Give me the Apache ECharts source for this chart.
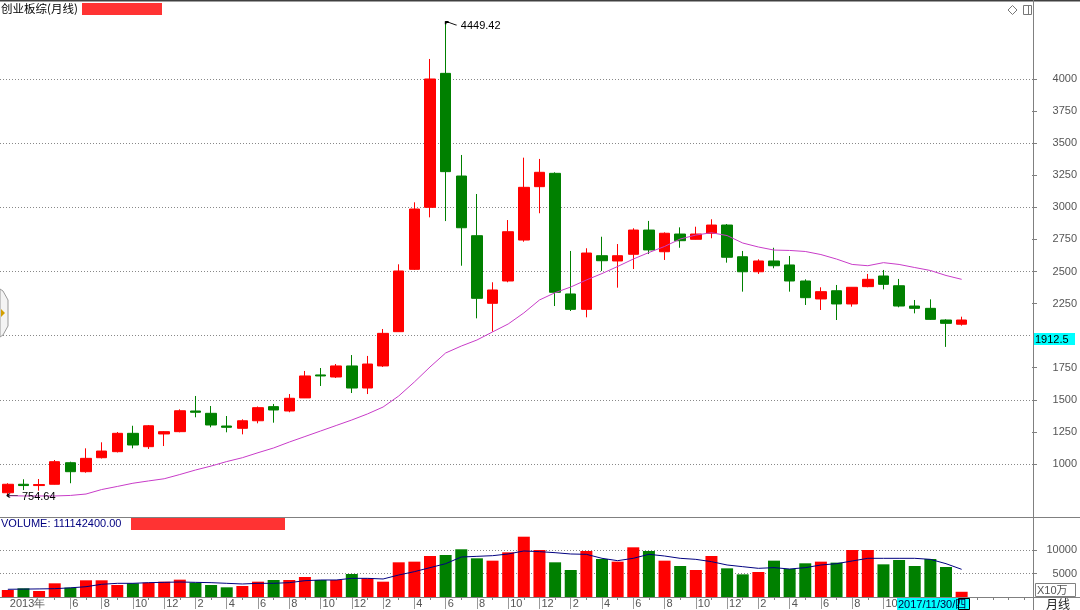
<!DOCTYPE html>
<html><head><meta charset="utf-8">
<script src="https://cdn.jsdelivr.net/npm/echarts@6/dist/echarts.min.js"></script>
<style>html,body{margin:0;padding:0;background:#fff}#c{width:1080px;height:610px}</style>
</head><body><div id="c"></div>
<script>
// x-axis tick labels (one per monthly bar, plus empty slots on the right)
const tickLabels = ['2013年','','','','6','','8','','10','','12','','2','','4','','6','','8','','10','','12','',
  '2','','4','','6','','8','','10','','12','','2','','4','','6','','8','','10','','12','',
  '2','','4','','6','','8','','10','','','','','','','','',''];
// candles: [open, close, lowest, highest]
const candles = [
 [776,842,754.64,850],[842,832,797,881],[832,840,792,883],[842,1018,840,1031],[1010,940,850,1018],
 [940,1044,932,1122],[1049,1101,1043,1169],[1096,1239,1090,1249],[1239,1148,1122,1298],[1135,1298,1117,1304],
 [1234,1252,1140,1257],[1252,1415,1247,1426],[1413,1403,1364,1530],[1395,1304,1286,1452],[1296,1286,1247,1374],
 [1278,1337,1231,1348],[1337,1439,1317,1448],[1447,1421,1322,1468],[1413,1512,1403,1545],[1515,1686,1514,1725],
 [1694,1686,1608,1748],[1678,1764,1670,1779],[1764,1592,1553,1849],[1592,1779,1545,1842],[1764,2018,1756,2052],
 [2031,2504,2029,2556],[2517,2987,2512,3039],[3000,4000,2922,4156],[4044,3278,2893,4449.42],[3244,2841,2545,3408],
 [2779,2291,2135,3104],[2252,2356,2031,2416],[2426,2810,2416,2901],[2745,3156,2732,3387],[3161,3273,2954,3377],
 [3265,2338,2231,3273],[2325,2205,2192,2660],[2205,2644,2143,2681],[2623,2584,2504,2771],[2582,2623,2374,2714],
 [2634,2823,2519,2837],[2823,2668,2636,2894],[2654,2798,2590,2805],[2792,2740,2685,2844],[2751,2792,2749,2849],
 [2798,2862,2759,2907],[2862,2611,2569,2870],[2615,2498,2343,2660],[2498,2582,2481,2595],[2582,2545,2525,2685],
 [2551,2426,2343,2621],[2426,2296,2239,2439],[2286,2343,2200,2377],[2350,2247,2122,2395],[2247,2377,2226,2379],
 [2382,2439,2377,2481],[2465,2400,2361,2512],[2389,2231,2221,2442],[2231,2213,2174,2278],[2213,2127,2122,2283],
 [2122,2096,1912.5,2128],[2089,2122,2078,2148]
];
// moving average line on price panel
const priceMA = [753,751,751,751,755,766,801,825,850,868,885,918,953,984,1019,1049,1088,1125,1171,1214,
 1257,1300,1343,1390,1444,1530,1639,1756,1865,1919,1966,2029,2091,2177,2278,2335,2379,2434,2484,2539,
 2597,2648,2695,2753,2784,2802,2780,2722,2691,2667,2664,2656,2632,2597,2555,2545,2569,2555,2531,2508,2469,2439];
// volume (x10万)
const volumes = [1490,1850,1280,2910,1990,3550,3550,2550,2910,3050,3260,3690,3050,2550,2060,2340,3260,3620,3620,4260,
 3620,3620,4890,3970,3260,7380,7520,8720,8940,10150,8230,7730,9500,12830,10000,7380,5740,9790,8090,7520,
 10570,9790,7730,6600,5740,8720,6100,4820,5320,7730,5960,7170,7520,7310,10000,10000,6950,7870,6600,8090,6380,1111];
const volumeMA = [1640,1680,1720,1770,1950,2190,2700,2910,2910,3050,3120,3190,3120,3050,2910,2770,2910,2910,3050,3470,
 3620,3620,3970,3970,3830,4680,5390,6240,7090,8510,8650,8790,9150,9790,9650,9430,9150,9080,8230,7730,
 8230,9080,8720,8230,8010,7520,6810,6450,6100,6240,5960,6240,6810,7090,7660,8230,8230,8230,8230,8010,7090,5890];
const priceTicks = [1000,1250,1500,1750,2250,2500,2750,3000,3250,3500,3750,4000];
const priceGrid = [1000,1500,2000,2500,3000,3500,4000];
const volumeTicks = [5000,10000];

const UP = '#FF0000', DOWN = '#008000';
const NUMFONT = '"Liberation Sans", Arial, sans-serif';
const plain = v => String(v);
const chart = echarts.init(document.getElementById('c'));
chart.setOption({
  animation: false,
  grid: [
    {left: 0, top: 2, width: 1033, height: 515},
    {left: 0, top: 517, width: 1033, height: 80}
  ],
  xAxis: [
    {gridIndex: 0, type: 'category', data: tickLabels, show: false},
    {gridIndex: 1, type: 'category', data: tickLabels, position: 'bottom',
     axisLine: {show: false},
     axisTick: {show: true, alignWithLabel: true, interval: (i) => i >= 3, length: 3, lineStyle: {color: '#808080'}},
     axisLabel: {interval: 0, align: 'left', margin: 1, padding: [0, 0, 0, 2], color: '#555', fontSize: 11, fontFamily: NUMFONT},
     splitLine: {show: false}},
    {gridIndex: 1, type: 'category', data: tickLabels, position: 'bottom',
     axisLine: {show: false},
     axisTick: {show: true, alignWithLabel: true, interval: (i, v) => i > 0 && v !== '', length: 12, lineStyle: {color: '#999'}},
     axisLabel: {show: false}, splitLine: {show: false}}
  ],
  yAxis: [
    {gridIndex: 0, type: 'value', position: 'right', min: 587, max: 4600,
     axisLine: {show: false},
     axisTick: {show: true, customValues: priceTicks, length: 5, lineStyle: {color: '#808080'}},
     axisLabel: {customValues: priceTicks, formatter: plain, align: 'right', margin: 45, color: '#555', fontSize: 11, fontFamily: NUMFONT},
     splitLine: {show: false}},
    {gridIndex: 0, type: 'value', position: 'right', min: 587, max: 4600,
     axisLine: {show: false},
     axisTick: {show: false, customValues: priceGrid},
     axisLabel: {show: false},
     splitLine: {show: true, lineStyle: {color: '#888', type: [1, 2], width: 1}}},
    {gridIndex: 1, type: 'value', position: 'right', min: 0, max: 17020,
     axisLine: {show: false},
     axisTick: {show: true, customValues: volumeTicks, length: 5, lineStyle: {color: '#808080'}},
     axisLabel: {customValues: volumeTicks, formatter: plain, align: 'right', margin: 45, color: '#555', fontSize: 11, fontFamily: NUMFONT},
     splitLine: {show: true, lineStyle: {color: '#888', type: [1, 2], width: 1}}}
  ],
  series: [
    {type: 'candlestick', xAxisIndex: 0, yAxisIndex: 0, data: candles, barWidth: 11,
     itemStyle: {color: UP, color0: DOWN, borderColor: UP, borderColor0: DOWN, borderWidth: 1},
     markPoint: {
       symbolKeepAspect: false,
       itemStyle: {color: 'none', borderColor: '#000', borderWidth: 1},
       label: {show: true, position: 'right', distance: 1, color: '#000', fontSize: 11, fontFamily: NUMFONT,
               formatter: p => Number(p.value).toFixed(2)},
       data: [
         {type: 'max', valueDim: 'highest', symbol: 'path://M0,0L11,4M0,0L3,0M0,0L0,3', symbolSize: [11, 4], symbolOffset: [5.5, 2], label: {offset: [-1, 3]}},
         {type: 'min', valueDim: 'lowest', symbol: 'path://M0,2L11,2M0,2L3,0M0,2L3,4', symbolSize: [11, 4], symbolOffset: [4.5, 0], label: {offset: [-1, 1]}}
       ]
     }},
    {type: 'line', xAxisIndex: 0, yAxisIndex: 0, data: priceMA, symbol: 'none', lineStyle: {color: '#C83CC8', width: 1}},
    {type: 'bar', xAxisIndex: 1, yAxisIndex: 2, data: volumes, barWidth: 12,
     itemStyle: {color: p => candles[p.dataIndex][1] >= candles[p.dataIndex][0] ? UP : DOWN}},
    {type: 'line', xAxisIndex: 1, yAxisIndex: 2, data: volumeMA, symbol: 'none', lineStyle: {color: '#000080', width: 1}, z: 5}
  ],
  graphic: [
    {type: 'line', z: 100, shape: {x1: 0, y1: 0.5, x2: 1080, y2: 0.5}, style: {stroke: '#404040', lineWidth: 2}},
    {type: 'text', z: 100, x: 1, y: 9, style: {text: '创业板综(月线)', font: '11.5px "Noto Sans CJK SC"', fill: '#000', verticalAlign: 'middle'}},
    {type: 'rect', z: 100, shape: {x: 82, y: 3, width: 80, height: 12}, style: {fill: '#FF3333'}},
    {type: 'line', z: 100, shape: {x1: 0, y1: 517.5, x2: 1080, y2: 517.5}, style: {stroke: '#808080', lineWidth: 1}},
    {type: 'text', z: 100, x: 1, y: 524, style: {text: 'VOLUME: 111142400.00', font: '11px "Liberation Sans"', fill: '#000080', verticalAlign: 'middle'}},
    {type: 'rect', z: 100, shape: {x: 131, y: 518, width: 154, height: 12}, style: {fill: '#FF3333'}},
    {type: 'line', z: 100, shape: {x1: 1033.5, y1: 0, x2: 1033.5, y2: 610}, style: {stroke: '#808080', lineWidth: 1}},
    {type: 'line', z: 100, shape: {x1: 0, y1: 597.5, x2: 1080, y2: 597.5}, style: {stroke: '#808080', lineWidth: 1}},
    {type: 'rect', z: 100, shape: {x: 1034, y: 333, width: 41, height: 12}, style: {fill: '#00FFFF'}},
    {type: 'text', z: 101, x: 1035, y: 339.5, style: {text: '1912.5', font: '11px "Liberation Sans"', fill: '#000', verticalAlign: 'middle'}},
    {type: 'rect', z: 100, shape: {x: 1035.5, y: 583.5, width: 40, height: 13}, style: {fill: '#fff', stroke: '#808080', lineWidth: 1}},
    {type: 'text', z: 101, x: 1037, y: 590.5, style: {text: 'X10万', font: '11px "Liberation Sans", "Noto Sans CJK SC"', fill: '#555', verticalAlign: 'middle'}},
    {type: 'text', z: 101, x: 1046, y: 604, style: {text: '月线', font: '12px "Noto Sans CJK SC"', fill: '#222', verticalAlign: 'middle'}},
    {type: 'rect', z: 100, shape: {x: 897, y: 598, width: 73, height: 12}, style: {fill: '#00FFFF'}},
    {type: 'text', z: 101, x: 898, y: 604.5, style: {text: '2017/11/30/四', font: '11px "Liberation Sans", "Noto Sans CJK SC"', fill: '#000040', verticalAlign: 'middle'}},
    {type: 'rect', z: 101, shape: {x: 958.5, y: 598.5, width: 11, height: 11}, style: {fill: 'none', stroke: '#000', lineWidth: 1}},
    {type: 'polygon', z: 100, shape: {points: [[1012.5, 5.5], [1017, 10], [1012.5, 14.5], [1008, 10]]}, style: {fill: 'none', stroke: '#777', lineWidth: 1}},
    {type: 'rect', z: 100, shape: {x: 1023.5, y: 5.5, width: 8, height: 9}, style: {fill: 'none', stroke: '#777', lineWidth: 1}},
    {type: 'line', z: 100, shape: {x1: 1028.5, y1: 5.5, x2: 1028.5, y2: 14.5}, style: {stroke: '#777', lineWidth: 1}},
    {type: 'polygon', z: 100, shape: {points: [[0, 289], [3, 291], [8, 300], [8, 326], [3, 335], [0, 337]]}, style: {fill: '#f4f4f4', stroke: '#999', lineWidth: 1}},
    {type: 'polygon', z: 101, shape: {points: [[1, 309], [5, 313], [1, 317]]}, style: {fill: '#D4A000'}}
  ]
});
</script></body></html>
